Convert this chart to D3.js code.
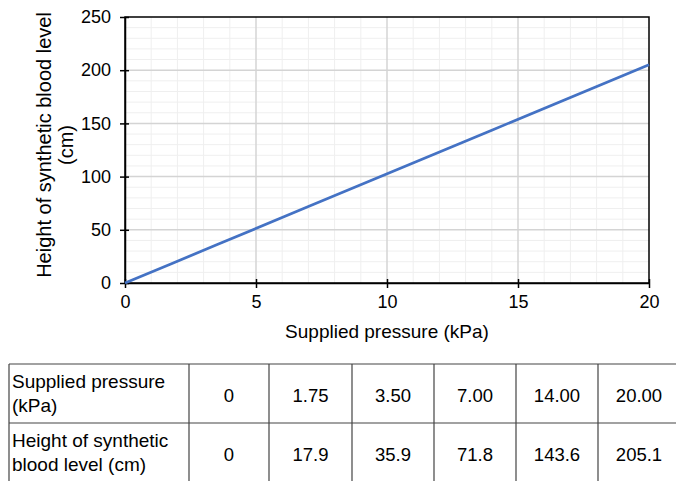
<!DOCTYPE html>
<html><head><meta charset="utf-8">
<script src="https://cdn.jsdelivr.net/npm/d3@7"></script>
<style>body{margin:0;background:#fff}svg{display:block}</style>
</head><body>
<svg id="c" width="676" height="481"></svg>
<script>
const pressure = [0, 1.75, 3.50, 7.00, 14.00, 20.00];
const height = [0, 17.9, 35.9, 71.8, 143.6, 205.1];
const pressureLabels = ["0", "1.75", "3.50", "7.00", "14.00", "20.00"];
const heightLabels = ["0", "17.9", "35.9", "71.8", "143.6", "205.1"];
const rowHeaders = [["Supplied pressure", "(kPa)"], ["Height of synthetic", "blood level (cm)"]];
const xTicks = [0, 5, 10, 15, 20];
const yTicks = [0, 50, 100, 150, 200, 250];

const svg = d3.select("#c");
const font = "Liberation Sans, Arial, sans-serif";
const L = 125, R = 649, T = 17, B = 283;
const x = d3.scaleLinear().domain([0, 20]).range([L, R]);
const y = d3.scaleLinear().domain([0, 250]).range([B, T]);

// minor grid
svg.append("g").selectAll("line").data(d3.range(1, 20).filter(v => v % 5)).join("line")
  .attr("x1", d => x(d)).attr("x2", d => x(d)).attr("y1", T).attr("y2", B)
  .attr("stroke", "#efefef").attr("stroke-width", 1);
svg.append("g").selectAll("line").data(d3.range(10, 250, 10).filter(v => v % 50)).join("line")
  .attr("y1", d => y(d)).attr("y2", d => y(d)).attr("x1", L).attr("x2", R)
  .attr("stroke", "#efefef").attr("stroke-width", 1);
// major grid
svg.append("g").selectAll("line").data(xTicks.slice(1, -1)).join("line")
  .attr("x1", d => x(d)).attr("x2", d => x(d)).attr("y1", T).attr("y2", B)
  .attr("stroke", "#d4d4d4").attr("stroke-width", 1.5);
svg.append("g").selectAll("line").data(yTicks.slice(1, -1)).join("line")
  .attr("y1", d => y(d)).attr("y2", d => y(d)).attr("x1", L).attr("x2", R)
  .attr("stroke", "#d4d4d4").attr("stroke-width", 1.5);

// frame
svg.append("rect").attr("x", L).attr("y", T).attr("width", R - L).attr("height", B - T)
  .attr("fill", "none").attr("stroke", "#000").attr("stroke-width", 1.5);

// axes
const xAxis = svg.append("g").attr("transform", `translate(0,${B})`)
  .call(d3.axisBottom(x).tickValues(xTicks).tickSize(5).tickSizeOuter(0));
const yAxis = svg.append("g").attr("transform", `translate(${L},0)`)
  .call(d3.axisLeft(y).tickValues(yTicks).tickSize(5).tickSizeOuter(0));
[xAxis, yAxis].forEach(g => {
  g.select(".domain").attr("stroke", "#000").attr("stroke-width", 1.5);
  g.selectAll(".tick line").attr("stroke", "#000").attr("stroke-width", 1.5);
  g.selectAll(".tick text").attr("font-family", font).attr("font-size", 18).attr("fill", "#000");
});
xAxis.selectAll(".tick line").attr("y1", -4);
xAxis.selectAll(".tick text").attr("dy", "0.95em");
yAxis.selectAll(".tick line").attr("x1", 4);
yAxis.selectAll(".tick text").attr("x", -14);

// line
svg.append("path").datum(pressure.map((p, i) => [p, height[i]]))
  .attr("d", d3.line().x(d => x(d[0])).y(d => y(d[1])))
  .attr("fill", "none").attr("stroke", "#4472C4").attr("stroke-width", 2.75);

// axis titles
svg.append("text").attr("x", 387).attr("y", 338).attr("text-anchor", "middle")
  .attr("font-family", font).attr("font-size", 19).text("Supplied pressure (kPa)");
const yl = svg.append("text").attr("transform", `translate(51,145) rotate(-90)`)
  .attr("text-anchor", "middle").attr("font-family", font).attr("font-size", 20);
yl.append("tspan").attr("x", 0).attr("y", 0).text("Height of synthetic blood level");
yl.append("tspan").attr("x", 0).attr("y", 22).text("(cm)");

// table
const colX = [9, 189, 269, 352, 434, 516, 598, 680];
const rowY = [364, 423, 482];
const tg = svg.append("g");
const lineColor = "#444";
tg.append("line").attr("x1", colX[0]).attr("x2", 676).attr("y1", rowY[0]).attr("y2", rowY[0]).attr("stroke", lineColor).attr("stroke-width", 1.2);
tg.append("line").attr("x1", colX[0]).attr("x2", 676).attr("y1", rowY[1]).attr("y2", rowY[1]).attr("stroke", lineColor).attr("stroke-width", 1.2);
colX.slice(0, -1).forEach(cx => tg.append("line").attr("x1", cx).attr("x2", cx).attr("y1", rowY[0]).attr("y2", 481)
  .attr("stroke", lineColor).attr("stroke-width", 1.2));
const rows = [pressureLabels, heightLabels];
rows.forEach((vals, r) => {
  const hdr = tg.append("text").attr("font-family", font).attr("font-size", 19).attr("fill", "#000");
  hdr.append("tspan").attr("x", colX[0] + 3).attr("y", rowY[r] + 24).text(rowHeaders[r][0]);
  hdr.append("tspan").attr("x", colX[0] + 3).attr("y", rowY[r] + 48).text(rowHeaders[r][1]);
  vals.forEach((v, i) => {
    tg.append("text").attr("x", (colX[i + 1] + colX[i + 2]) / 2).attr("y", rowY[r] + 38)
      .attr("text-anchor", "middle").attr("font-family", font).attr("font-size", 18.5).text(v);
  });
});
</script>
</body></html>
